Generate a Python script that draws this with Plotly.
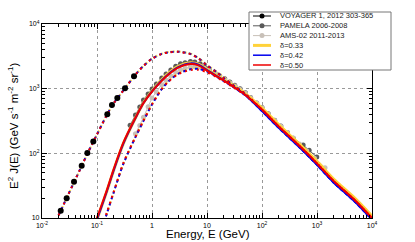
import plotly.graph_objects as go

# ---------------- data ----------------
E_GRID = [0.02, 0.03, 0.05, 0.07, 0.1, 0.15, 0.2, 0.3, 0.5, 0.7, 1, 1.5, 2, 3, 5, 7,
          10, 15, 20, 30, 50, 100, 200, 500, 1000, 2000, 5000, 10000]
E_MOD = E_GRID[3:]

voyager_E = [0.0219, 0.0281, 0.0382, 0.0527, 0.0667, 0.0857, 0.154, 0.187, 0.234, 0.323, 0.471]
voyager_J = [13, 20.2, 36.4, 64.3, 101, 153, 401, 557, 716, 1012, 1550]

pamela_E = [0.4, 0.5, 0.6, 0.7, 0.85, 1.0, 1.2, 1.5, 1.8, 2.2, 2.7, 3.3, 4.0, 5.0, 6.0, 7.5, 9.0,
            11, 14, 17, 21, 26, 32, 40, 50, 62, 80, 100, 130, 170, 220, 290, 370, 560, 720, 990]
pamela_J = [272, 390, 520, 670, 830, 990, 1180, 1460, 1680, 1950, 2220, 2420, 2520, 2640, 2580,
            2420, 2190, 1990, 1750, 1590, 1420, 1270, 1130, 1000, 865, 730, 600, 510, 410, 325,
            265, 210, 171, 134, 112, 88]

ams_E = [0.5, 0.6, 0.7, 0.85, 1.0, 1.2, 1.5, 1.8, 2.2, 2.7, 3.3, 4.0, 5.0, 6.0, 7.5, 9.0, 11, 14,
         17, 21, 26, 32, 40, 50, 62, 80, 100, 130, 170, 220, 290, 370, 480, 650, 900, 1400]
ams_J = [200, 270, 360, 525, 720, 890, 1150, 1350, 1570, 1790, 1960, 2060, 2180, 2190, 2170,
         2060, 1920, 1710, 1540, 1380, 1230, 1100, 975, 850, 725, 600, 505, 405, 322, 262, 210,
         172, 140, 110, 84, 60]

# interstellar spectra (upper dashed)
lis_033 = [11, 23, 58, 107, 196, 388, 590, 930, 1650, 2250, 2910, 3470, 3680, 3760, 3480, 2980,
           2330, 1830, 1500, 1160, 850, 500, 279, 134, 75, 40, 19.8, 10.7]
lis_042 = [11, 23, 58, 107, 196, 388, 590, 930, 1650, 2250, 2900, 3450, 3650, 3730, 3450, 2950,
           2300, 1800, 1470, 1130, 820, 452, 250, 120, 66.5, 35.5, 17.5, 9.4]
lis_050 = [11, 23, 58, 107, 196, 388, 590, 930, 1650, 2250, 2900, 3440, 3640, 3710, 3420, 2920,
           2270, 1780, 1460, 1130, 830, 475, 263, 126, 70, 37.5, 18.5, 10]

# modulated, PAMELA epoch (solid)
pam_033 = [4.0, 9.5, 25.5, 54, 140, 350, 605, 925, 1370, 1730, 2210, 2510, 2390, 1980, 1610,
           1380, 1110, 830, 500, 279, 134, 75, 40, 19.8, 10.7]
pam_042 = [4.0, 9.5, 25.5, 54, 140, 350, 600, 910, 1340, 1690, 2160, 2460, 2340, 1940, 1570,
           1350, 1080, 795, 452, 250, 120, 66.5, 35.5, 17.5, 9.4]
pam_050 = [4.3, 10, 26.5, 56, 145, 355, 600, 900, 1320, 1660, 2120, 2400, 2290, 1900, 1550,
           1340, 1075, 800, 475, 263, 126, 70, 37.5, 18.5, 10]

# modulated, AMS-02 epoch (lower dashed)
ams_033 = [1.7, 4.0, 11.5, 24.5, 68, 178, 320, 575, 995, 1320, 1730, 2040, 2070, 1890, 1570,
           1360, 1090, 820, 500, 279, 134, 75, 40, 19.8, 10.7]
ams_042 = [1.7, 4.0, 11.5, 24.5, 68, 178, 318, 570, 985, 1300, 1700, 2000, 2030, 1850, 1530,
           1320, 1060, 790, 452, 250, 120, 66.5, 35.5, 17.5, 9.4]
ams_050 = [1.8, 4.2, 12, 25, 70, 180, 320, 570, 980, 1290, 1680, 1940, 1960, 1790, 1500,
           1300, 1050, 790, 475, 263, 126, 70, 37.5, 18.5, 10]

x_tickvals = [0.01, 0.1, 1, 10, 100, 1000, 10000]
x_ticktext = ["10<sup>-2</sup>", "10<sup>-1</sup>", "1", "10", "10<sup>2</sup>", "10<sup>3</sup>", "10<sup>4</sup>"]
y_tickvals = [10, 100, 1000, 10000]
y_ticktext = ["10", "10<sup>2</sup>", "10<sup>3</sup>", "10<sup>4</sup>"]

legend_labels = ["VOYAGER 1, 2012 303-365", "PAMELA 2006-2008", "AMS-02 2011-2013",
                 "δ=0.33", "δ=0.42", "δ=0.50"]

# ---------------- styles ----------------
YEL, BLU, RED = "#FFD23A", "#0000EE", "#EE0000"
PAM_C, AMS_C = "#5A5A5A", "#C8C0B8"
FONT = "Liberation Sans, Arial, sans-serif"

fig = go.Figure()

fig.add_trace(go.Scatter(x=pamela_E, y=pamela_J, mode="lines+markers",
                         line=dict(color=PAM_C, width=1), marker=dict(color=PAM_C, size=5),
                         showlegend=False))
fig.add_trace(go.Scatter(x=ams_E, y=ams_J, mode="lines+markers",
                         line=dict(color=AMS_C, width=1), marker=dict(color=AMS_C, size=5),
                         showlegend=False))

for color, lis, pam, ams, w, dsh in [(YEL, lis_033, pam_033, ams_033, 3, "4px,2px"),
                                     (BLU, lis_042, pam_042, ams_042, 2, "3px,3px"),
                                     (RED, lis_050, pam_050, ams_050, 2, "2px,4px")]:
    fig.add_trace(go.Scatter(x=E_GRID, y=lis, mode="lines",
                             line=dict(color=color, width=2, dash=dsh, shape="spline", smoothing=0.8),
                             showlegend=False))
    fig.add_trace(go.Scatter(x=E_MOD, y=ams, mode="lines",
                             line=dict(color=color, width=2, dash=dsh, shape="spline", smoothing=0.8),
                             showlegend=False))
    fig.add_trace(go.Scatter(x=E_MOD, y=pam, mode="lines",
                             line=dict(color=color, width=w, shape="spline", smoothing=0.8),
                             showlegend=False))

fig.add_trace(go.Scatter(x=voyager_E, y=voyager_J, mode="markers",
                         marker=dict(color="black", size=6), showlegend=False))

# ---------------- custom legend ----------------
def px2x(px):
    return (px - 42) / 330.0

def py2y(py):
    return (218 - py) / 194.0

shapes = [dict(type="rect", xref="paper", yref="paper", x0=px2x(249), x1=px2x(391),
               y0=py2y(70), y1=py2y(12), line=dict(color="#777777", width=1),
               fillcolor="white", layer="above")]
annotations = []
rows_y = [16, 25.8, 35.6, 45.4, 55.2, 65]
leg_styles = [("black", 1, True), (PAM_C, 1, True), (AMS_C, 1, True),
              (YEL, 3, False), (BLU, 1.5, False), (RED, 1.5, False)]
for lbl, ry, (c, w, mk) in zip(legend_labels, rows_y, leg_styles):
    yy = py2y(ry)
    shapes.append(dict(type="line", xref="paper", yref="paper", x0=px2x(253), x1=px2x(271),
                       y0=yy, y1=yy, line=dict(color=c, width=w), layer="above"))
    if mk:
        shapes.append(dict(type="circle", xref="paper", yref="paper",
                           xsizemode="pixel", ysizemode="pixel",
                           xanchor=px2x(262), yanchor=yy, x0=-2.5, x1=2.5, y0=-2.5, y1=2.5,
                           fillcolor=c, line=dict(color=c, width=0), layer="above"))
    annotations.append(dict(text=lbl, xref="paper", yref="paper", x=px2x(278), y=yy,
                            xanchor="left", yanchor="middle", showarrow=False,
                            font=dict(family=FONT, size=7.5, color="#222222")))

annotations.append(dict(text="E<sup>2</sup> J(E) (GeV s<sup>-1</sup> m<sup>-2</sup> sr<sup>-1</sup>)",
                        xref="paper", yref="paper", x=px2x(13), y=py2y(126), textangle=-90,
                        xanchor="center", yanchor="middle", showarrow=False,
                        font=dict(family=FONT, size=11.5, color="black")))
annotations.append(dict(text="Energy, E (GeV)", xref="paper", yref="paper",
                        x=px2x(208), y=py2y(234.5), xanchor="center", yanchor="middle",
                        showarrow=False, font=dict(family=FONT, size=11.5, color="black")))

minor_x = [m * 10 ** d for d in range(-2, 4) for m in range(2, 10)]
minor_y = [m * 10 ** d for d in range(1, 4) for m in range(2, 10)]

axis_common = dict(type="log", showline=True, linecolor="black", linewidth=1.2, mirror="ticks",
                   ticks="inside", ticklen=5, tickcolor="black", tickwidth=1,
                   showgrid=True, gridcolor="#999999", griddash="dot", gridwidth=1,
                   zeroline=False, tickfont=dict(family=FONT, size=7, color="black"))

fig.update_layout(
    width=415, height=242,
    margin=dict(l=42, r=43, t=24, b=24),
    paper_bgcolor="white", plot_bgcolor="white",
    showlegend=False,
    shapes=shapes, annotations=annotations,
    xaxis=dict(range=[-2, 4], tickmode="array", tickvals=x_tickvals, ticktext=x_ticktext,
               minor=dict(tickmode="array", tickvals=minor_x, ticks="inside", ticklen=3,
                          tickcolor="black", showgrid=False),
               **axis_common),
    yaxis=dict(range=[1, 4], tickmode="array", tickvals=y_tickvals, ticktext=y_ticktext,
               minor=dict(tickmode="array", tickvals=minor_y, ticks="inside", ticklen=3,
                          tickcolor="black", showgrid=False),
               **axis_common),
)

fig.write_html("out.html", config={"displayModeBar": False},
               post_script="document.body.style.margin='0px';document.body.style.padding='0px';")
